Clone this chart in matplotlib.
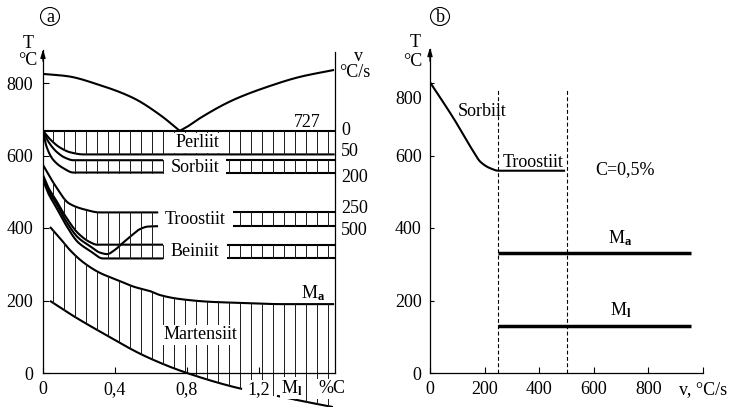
import numpy as np
import matplotlib
matplotlib.use("Agg")
import matplotlib.pyplot as plt
from matplotlib.patches import Ellipse
from matplotlib.transforms import ScaledTranslation

plt.rcParams['font.family'] = ['Liberation Serif', 'DejaVu Serif']
plt.rcParams['mathtext.fontset'] = 'custom'
plt.rcParams['mathtext.rm'] = 'Liberation Serif'
plt.rcParams['mathtext.it'] = 'Liberation Serif:italic'
plt.rcParams['mathtext.bf'] = 'Liberation Serif:bold'

FS = 13

# ---------------- (a) temperature vs carbon content ----------------
a3_c = [0.0, 0.133, 0.317, 0.5, 0.65, 0.76]
a3_t = [825, 819, 794, 759, 712, 668]
acm_c = [0.76, 0.8, 0.872, 1.056, 1.244, 1.428, 1.617]
acm_t = [668, 679, 703, 753, 789, 817, 836]
a1_t = 668                                   # eutectoid line (727 °C)

v50_c = [0.0, 0.039, 0.094, 0.15, 0.224, 1.62]
v50_t = [668, 645, 622, 609, 603, 603]
sorb_top_c = [0.0, 0.03, 0.076, 0.122, 0.168, 0.667]
sorb_top_t = [668, 638, 610, 594, 587, 587]
sorb_bot_c = [0.0, 0.02, 0.057, 0.113, 0.168, 0.667]
sorb_bot_t = [668, 624, 588, 565, 553, 553]
troo_top_c = [0.0, 0.072, 0.144, 0.239, 0.313, 0.64]
troo_top_t = [574, 514, 468, 450, 443, 443]
bain_top_c = [0.0, 0.028, 0.072, 0.128, 0.194, 0.261, 0.3, 0.667]
bain_top_t = [546, 513, 477, 430, 386, 361, 354, 354]
nose_c = [0.0, 0.028, 0.072, 0.128, 0.194, 0.261, 0.317, 0.356, 0.4, 0.444,
          0.489, 0.539, 0.583, 0.639]
nose_t = [541, 505, 469, 419, 374, 350, 332, 328, 340, 359, 378, 397, 404, 405]
bain_bot_c = [0.0, 0.028, 0.072, 0.128, 0.194, 0.261, 0.333, 0.667]
bain_bot_t = [532, 497, 458, 408, 361, 337, 316, 316]

# right-hand parts of the bands (start %C, upper T, lower T)
sorb_right = (1.017, 587, 553)
troo_right = (1.056, 443, 405)
bain_right = (1.022, 354, 316)

ms_c = [0.039, 0.094, 0.15, 0.222, 0.317, 0.411, 0.511, 0.594, 0.65, 0.761,
        0.944, 1.133, 1.317, 1.617]
ms_t = [403, 372, 339, 306, 276, 257, 237, 226, 215, 204, 196, 193, 190, 190]
mf_c = [0.039, 0.15, 0.3, 0.578, 0.8, 1.106, 1.3, 1.456, 1.611]
mf_t = [199, 163, 119, 44, 0, -44, -63, -79, -94]

rate_labels = ['0', '50', '200', '250', '500']
rate_label_t = [668, 610, 538, 455, 392]

a_xticks = [0, 0.4, 0.8, 1.2]
a_xlabels = ['0', '0,4', '0,8', '1,2']
t_ticks = [0, 200, 400, 600, 800]

# ---------------- (b) temperature vs cooling rate ----------------
cool_v = [0, 86, 159, 184, 220, 251, 495]
cool_t = [802, 703, 611, 583, 565, 558, 558]
crit_v = [250, 500]
mart_v = [250, 955]
ms_b = 330
mf_b = 130.5
b_xticks = [0, 200, 400, 600, 800, 1000]
b_xlabels = ['0', '200', '400', '600', '800', 'v, °C/s']


def pchip(x, y, xs):
    """Monotone cubic Hermite interpolation."""
    x = np.asarray(x, float)
    y = np.asarray(y, float)
    xs = np.asarray(xs, float)
    h = np.diff(x)
    d = np.diff(y) / h
    m = np.zeros_like(x)
    m[0], m[-1] = d[0], d[-1]
    for k in range(1, len(x) - 1):
        if d[k - 1] * d[k] > 0:
            w1 = 2 * h[k] + h[k - 1]
            w2 = h[k] + 2 * h[k - 1]
            m[k] = (w1 + w2) / (w1 / d[k - 1] + w2 / d[k])
    i = np.clip(np.searchsorted(x, xs) - 1, 0, len(x) - 2)
    t = (xs - x[i]) / h[i]
    h00 = 2 * t**3 - 3 * t**2 + 1
    h10 = t**3 - 2 * t**2 + t
    h01 = -2 * t**3 + 3 * t**2
    h11 = t**3 - t**2
    return h00 * y[i] + h10 * h[i] * m[i] + h01 * y[i + 1] + h11 * h[i] * m[i + 1]


def curve(ax, c, t, lo=None, hi=None, **kw):
    lo = c[0] if lo is None else lo
    hi = c[-1] if hi is None else hi
    xs = np.linspace(lo, hi, 400)
    ax.plot(xs, pchip(c, t, xs), **kw)


CURVE = dict(color='black', lw=1.5, solid_capstyle='butt')
HATCH = dict(color='0.1', lw=0.7)
WHITE = dict(boxstyle='square,pad=0.08', fc='white', ec='none')

fig = plt.figure(figsize=(7.3, 4.07), dpi=100)
axA = fig.add_axes([43 / 730, 34 / 407, 291.6 / 730, 326.25 / 407])
axB = fig.add_axes([430 / 730, 34 / 407, 273 / 730, 326.25 / 407])

for ax in (axA, axB):
    ax.set_ylim(0, 900)
    ax.set_axisbelow(False)
    ax.spines['top'].set_visible(False)
    for s in ax.spines.values():
        s.set_linewidth(0.9)
    ax.set_yticks(t_ticks)
    ax.tick_params(direction='in', length=4, width=0.8, labelsize=FS)

axA.set_xlim(0, 1.62)
axA.spines['right'].set_bounds(0, 886)
axA.spines['left'].set_bounds(0, 891)
axA.set_xticks(a_xticks, a_xlabels)
axA.tick_params(axis='y', pad=7)
axA.tick_params(axis='x', pad=6)
axA.annotate('', xy=(0, 893), xytext=(0, 860), annotation_clip=False,
             arrowprops=dict(arrowstyle='-|>,head_width=0.15,head_length=0.5',
                             lw=0.9, color='black', shrinkA=0, shrinkB=0))

# hatch positions
hatch = 0.053 + 0.0612 * np.arange(26)

# transformation boundaries
curve(axA, a3_c, a3_t, **CURVE)
curve(axA, acm_c, acm_t, **CURVE)
axA.plot([0, 1.62], [a1_t, a1_t], **CURVE)
curve(axA, v50_c, v50_t, **CURVE)
curve(axA, sorb_top_c, sorb_top_t, **CURVE)
curve(axA, sorb_bot_c, sorb_bot_t, **CURVE)
curve(axA, troo_top_c, troo_top_t, **CURVE)
curve(axA, bain_top_c, bain_top_t, **CURVE)
curve(axA, nose_c, nose_t, **CURVE)
curve(axA, bain_bot_c, bain_bot_t, **CURVE)
for start, top, bot in (sorb_right, troo_right, bain_right):
    axA.plot([start, 1.62], [top, top], **CURVE)
    axA.plot([start, 1.62], [bot, bot], **CURVE)

# martensite start / finish
curve(axA, ms_c, ms_t, **CURVE)
gap_lo, gap_hi = 1.106, 1.3
curve(axA, mf_c, mf_t, hi=gap_lo, clip_on=False, **CURVE)
curve(axA, mf_c, mf_t, lo=gap_hi, clip_on=False, **CURVE)

# vertical hatching of the bands
for c in hatch:
    axA.plot([c, c], [a1_t, pchip(v50_c, v50_t, [c])[0]], **HATCH)
    if 0.17 <= c <= 0.667 or c >= sorb_right[0]:
        axA.plot([c, c], [pchip(sorb_top_c, sorb_top_t, [c])[0],
                          pchip(sorb_bot_c, sorb_bot_t, [c])[0]], **HATCH)
    if c <= 0.64:
        axA.plot([c, c], [pchip(troo_top_c, troo_top_t, [c])[0],
                          pchip(bain_top_c, bain_top_t, [c])[0]], **HATCH)
    if c >= troo_right[0]:
        axA.plot([c, c], [troo_right[1], troo_right[2]], **HATCH)
    if 0.3 <= c <= 0.667 or c >= bain_right[0]:
        axA.plot([c, c], [bain_right[1], bain_right[2]], **HATCH)
    axA.plot([c, c], [pchip(ms_c, ms_t, [c])[0], pchip(mf_c, mf_t, [c])[0]],
             clip_on=False, **HATCH)

# labels
axA.text(0.856, 635, 'Perliit', fontsize=FS, ha='center', va='center', bbox=WHITE, zorder=5)
axA.text(0.844, 567, 'Sorbiit', fontsize=FS, ha='center', va='center', bbox=WHITE, zorder=5)
axA.text(0.844, 424, 'Troostiit', fontsize=FS, ha='center', va='center', bbox=WHITE, zorder=5)
axA.text(0.844, 334, 'Beiniit', fontsize=FS, ha='center', va='center', bbox=WHITE, zorder=5)
axA.text(0.872, 105, 'Martensiit', fontsize=FS, ha='center', va='center', bbox=WHITE, zorder=5)
axA.text(1.5, 221, r'$\mathrm{M}_\mathbf{a}$', fontsize=FS, ha='center', va='center')
axA.text(1.47, 691, '727', fontsize=FS, ha='center', va='center')
axA.text(1.383, -41, r'$\mathrm{M}_\mathbf{l}$', fontsize=FS, ha='center', va='center',
         bbox=WHITE, zorder=5)
axA.text(1.606, -44, '%C', fontsize=FS, ha='center', va='center', bbox=WHITE, zorder=5)
for lab, t in zip(rate_labels, rate_label_t):
    axA.text(1.655, t, lab, fontsize=FS, ha='left', va='center')
axA.text(1.75, 872, 'v', fontsize=FS, ha='center', va='center')
axA.text(1.733, 828, '°C/s', fontsize=FS, ha='center', va='center')
axA.text(-0.083, 910, 'T', fontsize=FS, ha='center', va='center')
axA.text(-0.083, 863, '°C', fontsize=FS, ha='center', va='center')
axA.get_xticklabels()[3].set_bbox(WHITE)

# ---------------- panel (b) ----------------
axB.set_xlim(0, 1000)
axB.spines['right'].set_visible(False)
axB.spines['left'].set_bounds(0, 895)
axB.set_xticks(b_xticks, b_xlabels)
axB.tick_params(axis='y', pad=6, length=3)
axB.tick_params(axis='x', pad=6)
axB.annotate('', xy=(0, 898), xytext=(0, 860), annotation_clip=False,
             arrowprops=dict(arrowstyle='-|>,head_width=0.15,head_length=0.5',
                             lw=0.9, color='black', shrinkA=0, shrinkB=0))
lbl = axB.get_yticklabels()[4]
lbl.set_transform(lbl.get_transform() + ScaledTranslation(0, -0.14, fig.dpi_scale_trans))

curve(axB, cool_v, cool_t, **CURVE)
for v in crit_v:
    axB.plot([v, v], [0, 786], color='black', lw=0.8, dashes=(3.5, 2.2))
axB.plot(mart_v, [ms_b, ms_b], color='black', lw=2.5, solid_capstyle='butt')
axB.plot(mart_v, [mf_b, mf_b], color='black', lw=2.5, solid_capstyle='butt')

axB.text(190, 720, 'Sorbiit', fontsize=FS, ha='center', va='center')
axB.text(378, 582, 'Troostiit', fontsize=FS, ha='center', va='center')
axB.text(714, 560, 'C=0,5%', fontsize=FS, ha='center', va='center')
axB.text(697, 372, r'$\mathrm{M}_\mathbf{a}$', fontsize=FS, ha='center', va='center')
axB.text(697, 172, r'$\mathrm{M}_\mathbf{l}$', fontsize=FS, ha='center', va='center')
axB.text(-55, 913, 'T', fontsize=FS, ha='center', va='center')
axB.text(-62, 858, '°C', fontsize=FS, ha='center', va='center')

# panel tags
for cx, tag in ((50, 'a'), (440, 'b')):
    fig.add_artist(Ellipse((cx / 730, 1 - 16.5 / 407), 19 / 730, 18 / 407,
                           fill=False, lw=0.8, transform=fig.transFigure))
    fig.text(cx / 730, 1 - 17 / 407, tag, fontsize=FS, ha='center', va='center')

fig.savefig('out.png', dpi=100)
